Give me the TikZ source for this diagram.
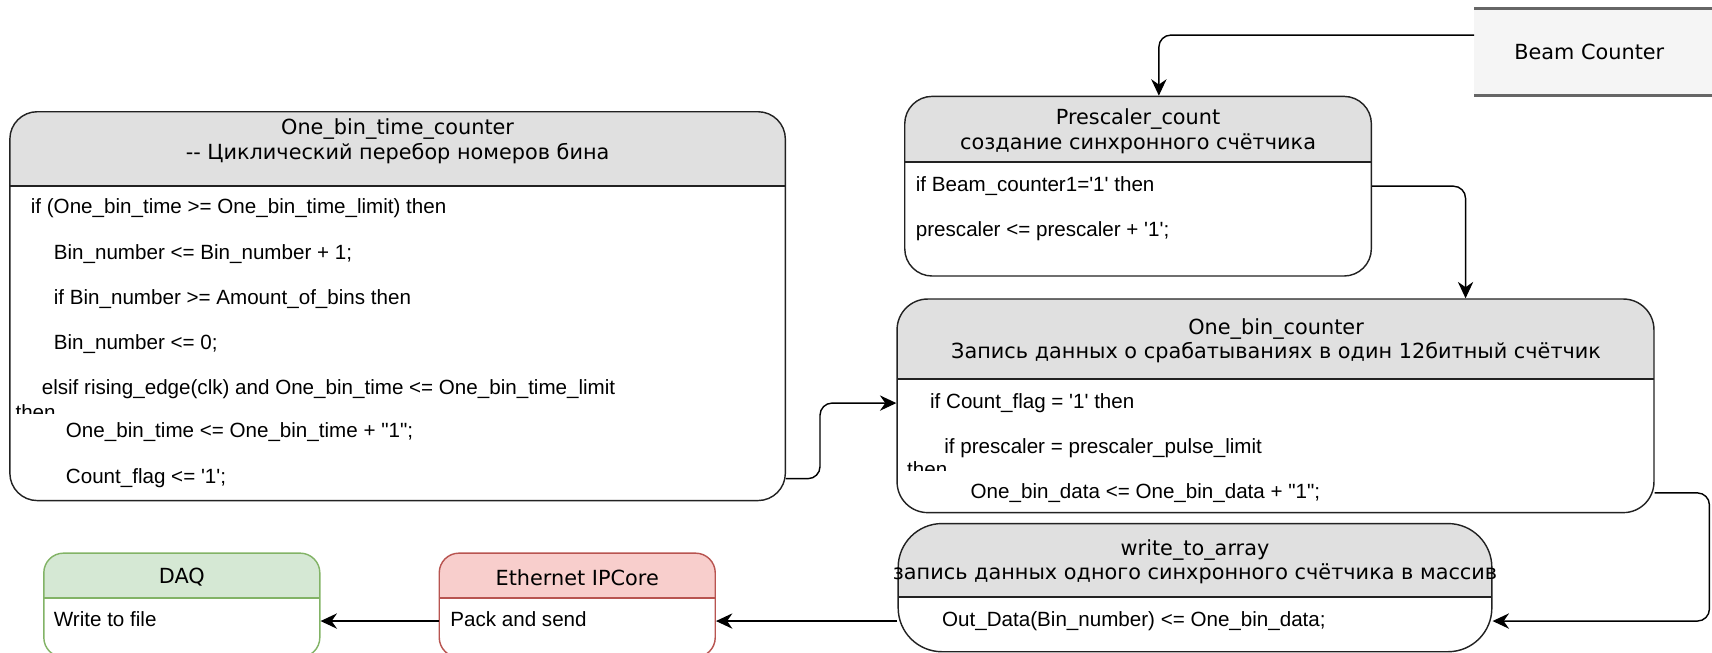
\documentclass[tikz,border=0pt]{standalone}
\usepackage{fontspec}
\newfontfamily\hdfont{DejaVu Sans}
\newfontfamily\codefont{Liberation Sans}
\usepackage{tikz}
\usetikzlibrary{arrows.meta, positioning}
\definecolor{lanegray}{HTML}{E0E0E0}
\definecolor{lanedraw}{HTML}{222222}
\definecolor{beamgray}{HTML}{F5F5F5}
\definecolor{beamrule}{HTML}{666666}
\definecolor{ethfill}{HTML}{F8CECC}
\definecolor{ethdraw}{HTML}{B85450}
\definecolor{daqfill}{HTML}{D5E8D4}
\definecolor{daqdraw}{HTML}{82B366}

\begin{document}
\begin{tikzpicture}
  [
    x=1pt, y=-1pt,
    Lane/.style n args={3}{draw=#3, line width=1.3pt, fill=white, inner sep=0pt,
      path picture={
        \fill[#2, sharp corners] (path picture bounding box.north west) rectangle ([yshift=-#1]path picture bounding box.north east);
        \draw[#3, line width=1.3pt, sharp corners] ([yshift=-#1]path picture bounding box.north west) -- ([yshift=-#1]path picture bounding box.north east);
      }},
    Head/.style={font=\hdfont\fontsize{19}{22.5}\selectfont, align=center, inner sep=0pt},
    Code/.style={font=\codefont\fontsize{18.8}{22}\selectfont, anchor=west, inner sep=0pt, text height=13.5pt, text depth=4pt},
    Flow/.style={draw, line width=1.3pt, rounded corners=11pt, -{Stealth[length=15pt, width=14pt]}}
  ]
  \useasboundingbox (0,0) rectangle (1563,596);
  \clip (0,0) rectangle (1563,596);

  % Nodes
  \node[Lane={68pt}{lanegray}{lanedraw}, rounded corners=25pt, minimum width=708pt, minimum height=355pt] (bintime) at (363,279.5) {};
  \node[Lane={60pt}{lanegray}{lanedraw}, rounded corners=25pt, minimum width=426pt, minimum height=164pt] (prescaler) at (1039,170) {};
  \node[Lane={73pt}{lanegray}{lanedraw}, rounded corners=28pt, minimum width=691pt, minimum height=195pt] (onebin) at (1164.5,370.5) {};
  \node[Lane={67pt}{lanegray}{lanedraw}, rounded corners=40pt, minimum width=542pt, minimum height=117pt] (array) at (1091,536.5) {};
  \node[Lane={41pt}{ethfill}{ethdraw}, rounded corners=18pt, minimum width=252pt, minimum height=95pt] (eth) at (527,552.5) {};
  \node[Lane={41pt}{daqfill}{daqdraw}, rounded corners=18pt, minimum width=252pt, minimum height=95pt] (daq) at (166,552.5) {};

  \fill[beamgray] (1346,8) rectangle (1563,87);
  \node[minimum width=210pt, minimum height=79pt, inner sep=0pt, font=\hdfont\fontsize{19}{22.5}\selectfont] (beam) at (1451,47.5) {Beam Counter};
  \draw[beamrule, line width=3pt] (beam.north west) -- ++(217,0);
  \draw[beamrule, line width=3pt] (beam.south west) -- ++(217,0);

  % Text
  \node[Head] (bintimeH) at (363,129) {One\_bin\_time\_counter\\-- Циклический перебор номеров бина};
  \node[Code] (bt1) at (28,190) {if (One\_bin\_time >= One\_bin\_time\_limit) then};
  \node[Code] (bt2) at (49,232) {Bin\_number <= Bin\_number + 1;};
  \node[Code] (bt3) at (49,273) {if Bin\_number >= Amount\_of\_bins then};
  \node[Code] (bt4) at (49,314) {Bin\_number <= 0;};
  \node[Code] (bt5) at (38,355) {elsif rising\_edge(clk) and One\_bin\_time <= One\_bin\_time\_limit};
  \begin{scope}
    \clip (10,360) rectangle (90,377.5);
    \node[Code] (bt6) at (14,378) {then};
  \end{scope}
  \node[Code] (bt7) at (60,395) {One\_bin\_time <= One\_bin\_time + "1";};
  \node[Code] (bt8) at (60,437) {Count\_flag <= '1';};

  \node[Head] (prescalerH) at (1039,120) {Prescaler\_count\\создание синхронного счётчика};
  \node[Code] (ps1) at (836,170) {if Beam\_counter1='1' then};
  \node[Code] (ps2) at (836,211) {prescaler <= prescaler + '1';};

  \node[Head] (onebinH) at (1165,311) {One\_bin\_counter\\Запись данных о срабатываниях в один 12битный счётчик};
  \node[Code] (ob1) at (849,368) {if Count\_flag = '1' then};
  \node[Code] (ob2) at (862,409) {if prescaler = prescaler\_pulse\_limit};
  \begin{scope}
    \clip (822,412) rectangle (900,429.5);
    \node[Code] (ob3) at (828,430) {then};
  \end{scope}
  \node[Code] (ob4) at (886,450) {One\_bin\_data <= One\_bin\_data + "1";};

  \node[Head] (arrayH) at (1091,513) {write\_to\_array\\запись данных одного синхронного счётчика в массив};
  \node[Code] (ar1) at (860,567) {Out\_Data(Bin\_number) <= One\_bin\_data;};

  \node[Head] (ethH) at (527,527) {Ethernet IPCore};
  \node[Code] (et1) at (411,567) {Pack and send};

  \node[Head] (daqH) at (166,527) {DAQ};
  \node[Code] (dq1) at (49,567) {Write to file};

  % Lines
  \draw[Flow] ([yshift=15.5pt]beam.west) -| ([xshift=19pt]prescaler.north);
  \draw[Flow] (prescaler.east |- ps1) -| ([xshift=173.5pt]onebin.north);
  \draw[Flow] (bintime.east |- bt8) -- ++(31,0) |- (onebin.west |- ob1);
  \draw[Flow] (onebin.east |- ob4) -- ++(50,0) |- (array.east |- ar1);
  \draw[Flow] (array.west |- ar1) -- (eth.east |- et1);
  \draw[Flow] (eth.west |- et1) -- (daq.east |- dq1);

\end{tikzpicture}
\end{document}
